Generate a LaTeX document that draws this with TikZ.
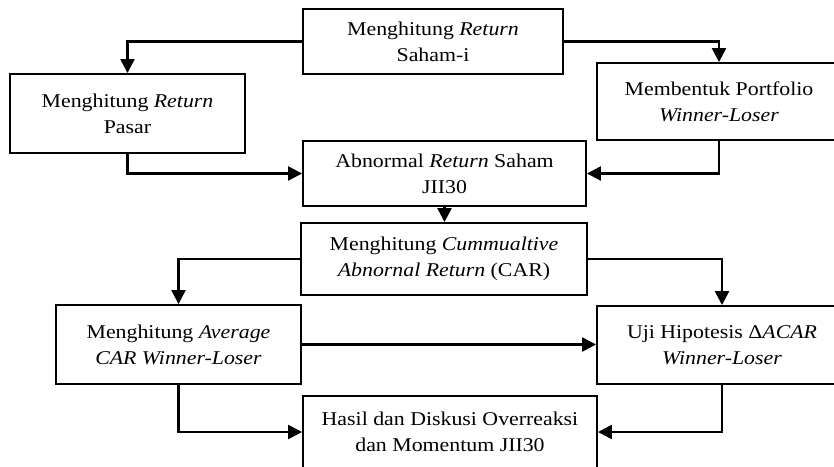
\documentclass[tikz,border=0pt]{standalone}
\usepackage{fontspec}
\setmainfont[FakeStretch=1.12]{Liberation Serif}
\usetikzlibrary{arrows.meta}
\tikzset{
  box/.style={draw, line width=1.9pt, rectangle, inner sep=0pt, align=center,
    font=\fontsize{19.5pt}{26pt}\selectfont},
  conn/.style={line width=2.4pt, -{Triangle[length=14pt,width=14pt]}}
}
\begin{document}
\begin{tikzpicture}[x=1pt,y=-1pt]
\useasboundingbox (0,0) rectangle (834,466);
\node[box, minimum width=260pt, minimum height=65pt] (T) at (433,41.5) {Menghitung \textit{Return}\\Saham-i};
\node[box, minimum width=235pt, minimum height=79pt] (L) at (127.5,113.5) {Menghitung \textit{Return}\\Pasar};
\node[box, minimum width=244pt, minimum height=77pt] (R) at (719,101.5) {Membentuk Portfolio\\\textit{Winner-Loser}};
\node[box, minimum width=283pt, minimum height=65pt] (A) at (444.5,173.5) {Abnormal \textit{Return} Saham\\JII30};
\node[box, minimum width=286pt, minimum height=72pt] (C) at (444,259) {Menghitung \textit{Cummualtive}\\\textit{Abnornal Return} (CAR)};
\node[box, minimum width=245pt, minimum height=79pt] (AV) at (178.5,344.5) {Menghitung \textit{Average}\\\textit{CAR Winner-Loser}};
\node[box, minimum width=250pt, minimum height=78pt] (U) at (722,345) {Uji Hipotesis Δ\textit{ACAR}\\\textit{Winner-Loser}};
\node[box, minimum width=294pt, minimum height=72pt] (H) at (450,432) {Hasil dan Diskusi Overreaksi\\dan Momentum JII30};
\draw[conn] (T.west) -| (L.north);
\draw[conn] (T.east) -| (R.north);
\draw[conn] (L.south) |- (A.west);
\draw[conn] (R.south) |- (A.east);
\draw[conn] (A.south) -- (A.south |- C.north);
\draw[conn] (C.west) -| (AV.north);
\draw[conn] (C.east) -| (U.north);
\draw[conn] (AV.east) -- (AV.east -| U.west);
\draw[conn] (AV.south) |- (H.west);
\draw[conn] (U.south) |- (H.east);
\end{tikzpicture}
\end{document}
